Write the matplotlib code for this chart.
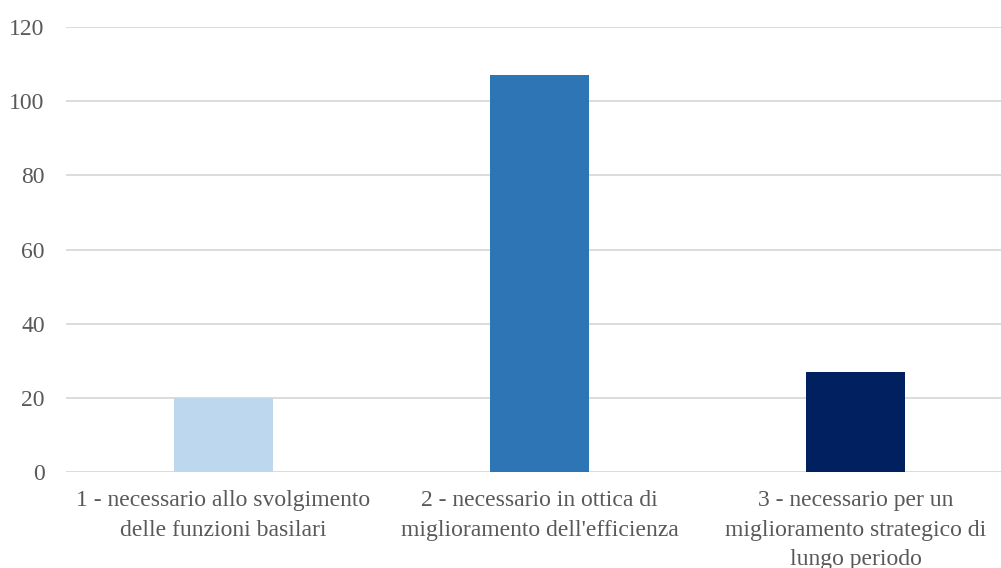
import matplotlib
matplotlib.use('Agg')
import matplotlib.pyplot as plt

categories = ['1 - necessario allo svolgimento\ndelle funzioni basilari',
              '2 - necessario in ottica di\nmiglioramento dell\'efficienza',
              '3 - necessario per un\nmiglioramento strategico di\nlungo periodo']
values = [20, 107, 27]
colors = ['#BDD7EE', '#2E75B6', '#002060']
yticks = [0, 20, 40, 60, 80, 100, 120]

plt.rcParams['font.family'] = ['Liberation Serif', 'DejaVu Serif']

fig = plt.figure(figsize=(10.01, 5.68), dpi=100)
ax = fig.add_axes([65.5 / 1001, 1 - 472 / 568, 948 / 1001, 445 / 568])

x = range(len(categories))
ax.bar(x, values, width=0.313, color=colors, zorder=3)

ax.set_xlim(-0.5, 2.5)
ax.set_ylim(0, 120)
ax.set_yticks(yticks)
ax.set_xticks(list(x))
ax.set_xticklabels(categories, fontsize=17, color='#595959', linespacing=1.53)
ax.tick_params(axis='y', labelsize=17, labelcolor='#595959', length=0, pad=15)
ax.tick_params(axis='x', length=0, pad=13)
ax.grid(axis='y', color='#D9D9D9', linewidth=1.3, zorder=0)

for s in ax.spines.values():
    s.set_visible(False)

fig.savefig('out.png', dpi=100)
